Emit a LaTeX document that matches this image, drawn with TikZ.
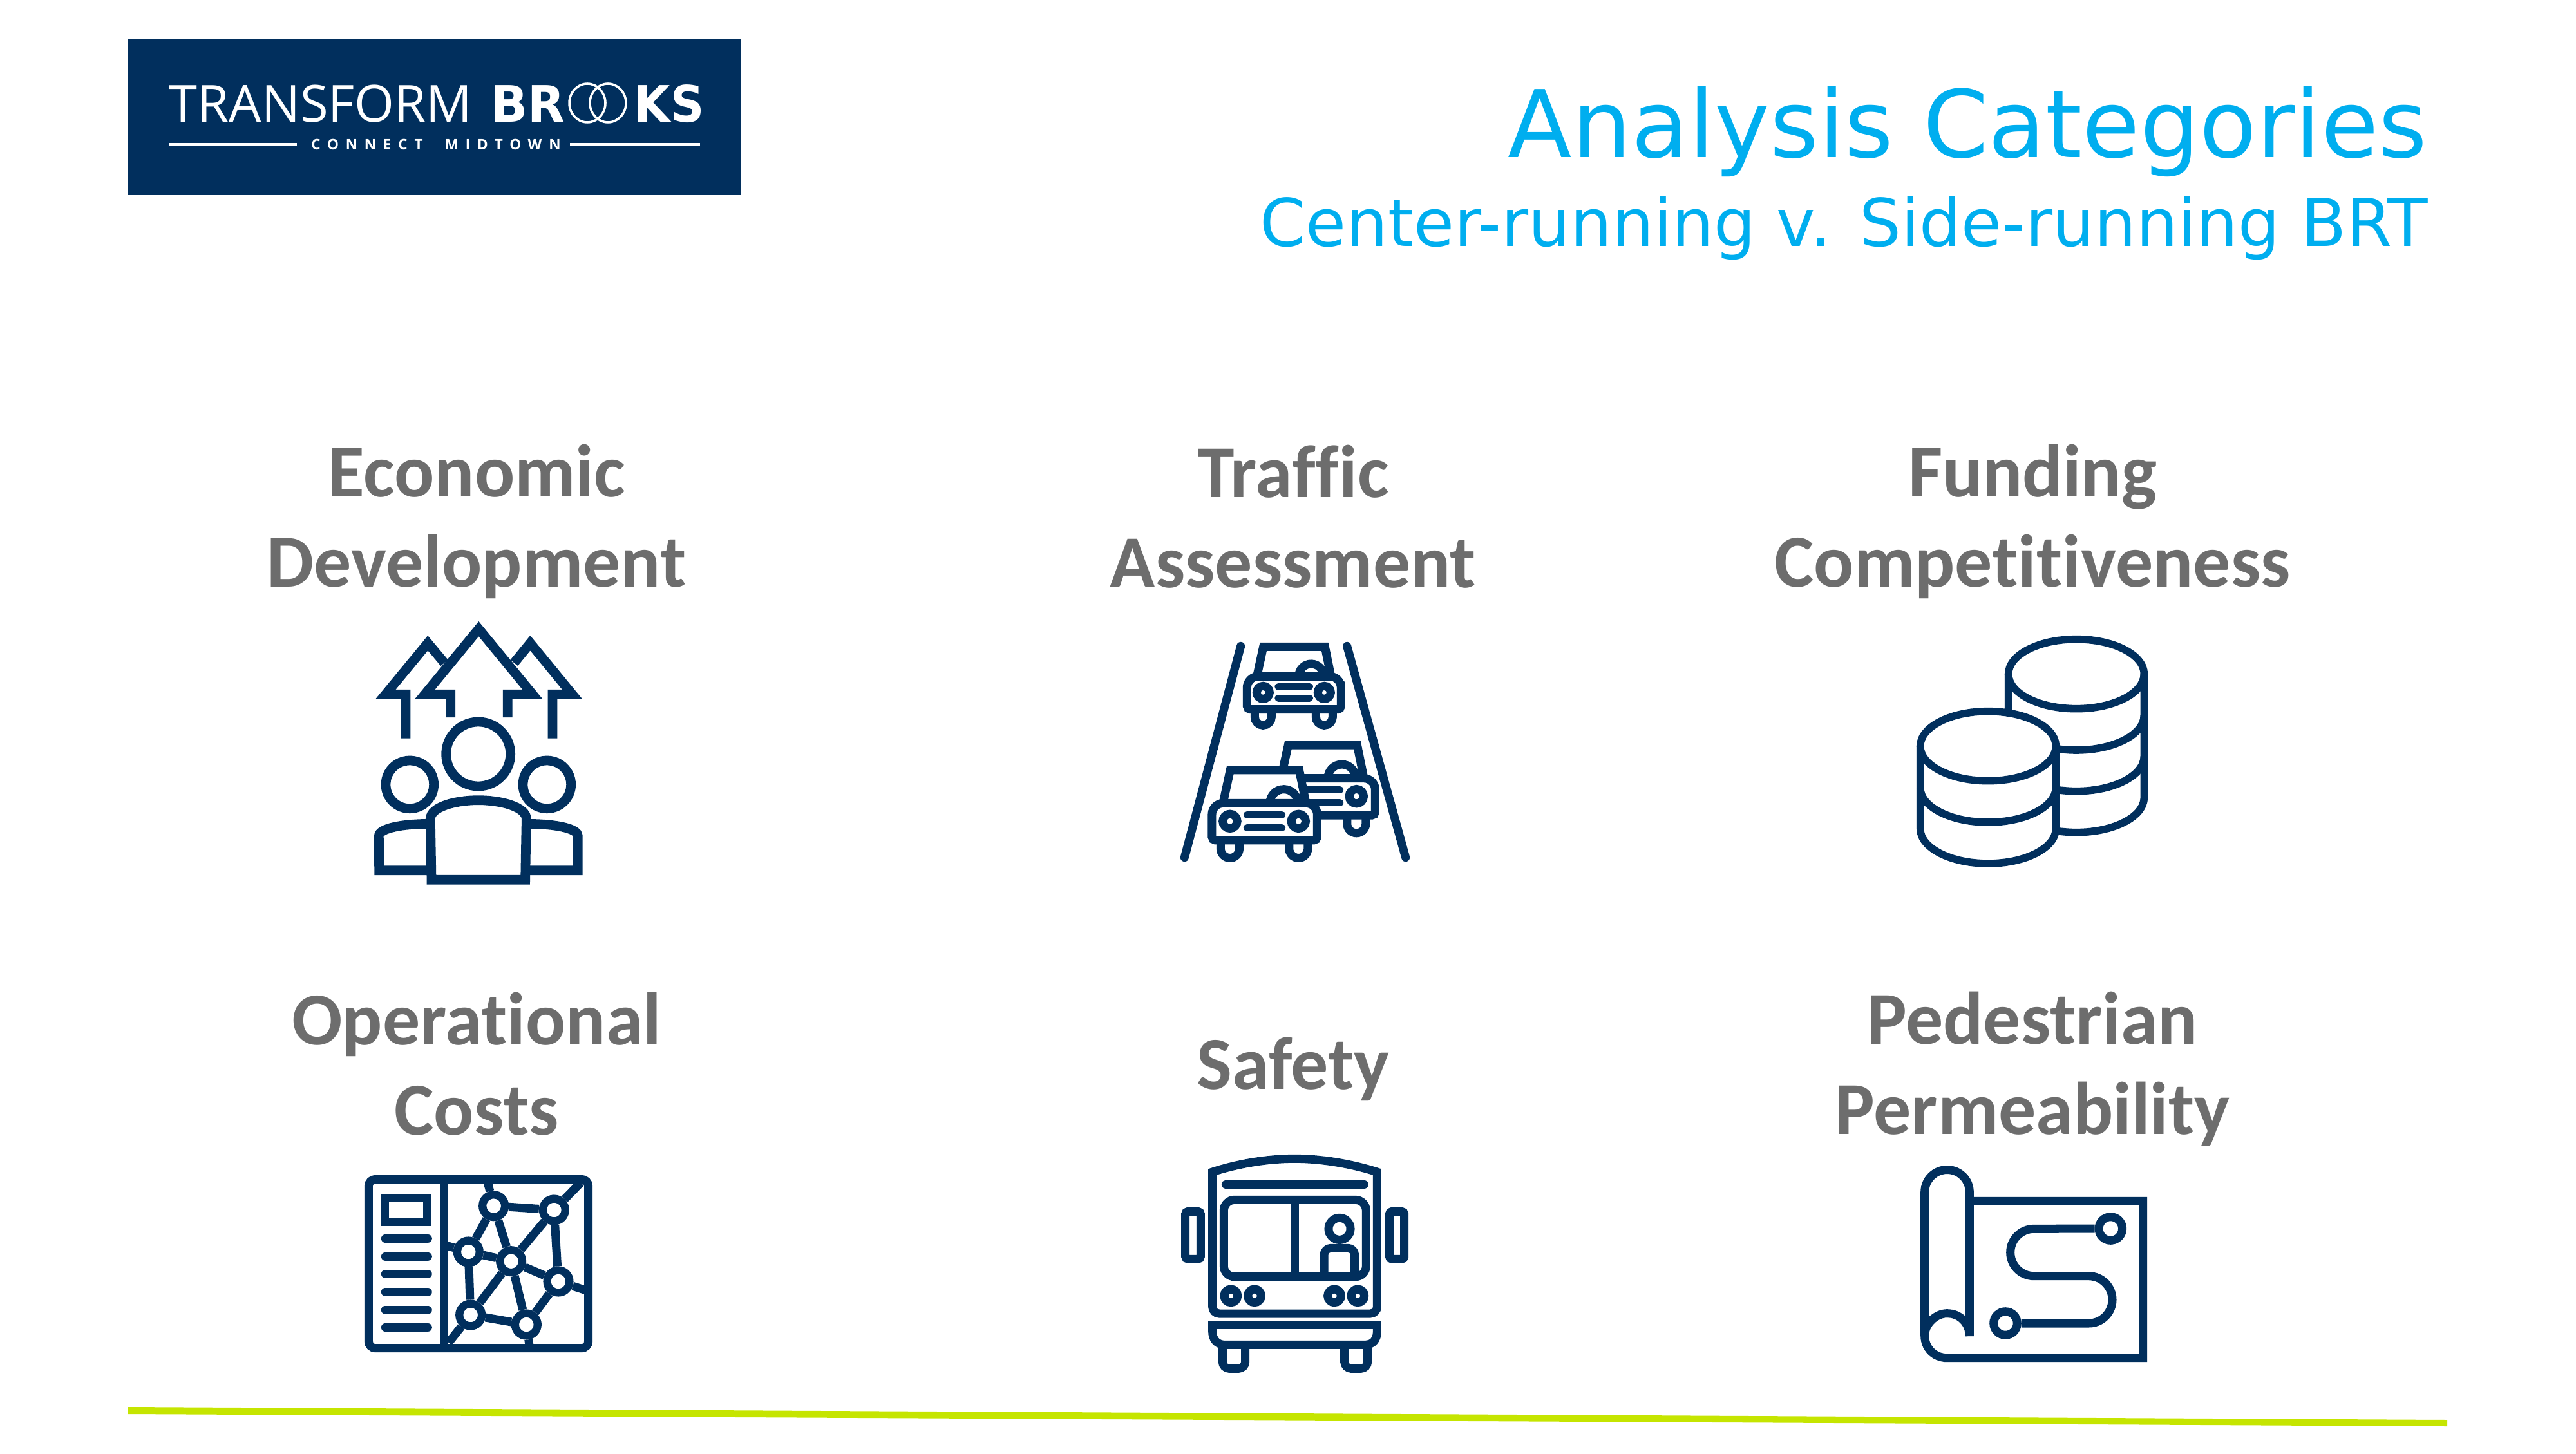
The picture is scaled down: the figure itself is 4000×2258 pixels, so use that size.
\documentclass[tikz,border=0pt]{standalone}
\usepackage{fontspec}
\setmainfont[Ligatures=CommonOff]{Carlito}
\newfontfamily\titlefont{DejaVu Sans}
\newfontfamily\logofont{Open Sans}
\newfontfamily\logoheavy{DejaVu Sans}
\newfontfamily\logospaced[LetterSpace=48]{Open Sans}
\definecolor{navy}{HTML}{012F5D}
\definecolor{greytext}{HTML}{6D6D6D}
\definecolor{skyblue}{HTML}{00AEEF}
\definecolor{limeline}{HTML}{C5E500}
\begin{document}
\begin{tikzpicture}[x=0.01cm,y=-0.01cm]
	\tikzstyle{catlabel}=[text=greytext,align=center,font=\fontsize{33}{39.8}\selectfont\bfseries]
	\tikzstyle{iconline}=[draw=navy,line width=3.7pt]
	\tikzstyle{mapdot}=[circle,draw=navy,line width=3.5pt,minimum size=9.9pt,inner sep=0pt]
	\tikzstyle{stopdot}=[circle,draw=navy,line width=3.7pt,minimum size=10.4pt,inner sep=0pt]
	\useasboundingbox (0,0) rectangle (4000,2258);
	\newcommand*{\carshape}{
		\draw[iconline,fill=white] (-173,0) -- (-143,-138) -- (144,-138) -- (172,0);
		\draw[iconline] (22,0) arc[start angle=180,end angle=360,radius=58];
		\foreach \x in {-144,141}{
			\draw[iconline,fill=white] (\x-39,150) -- (\x-39,189) arc[start angle=180,end angle=0,radius=39] -- (\x+39,150);
		}
		\draw[iconline,fill=white,rounded corners=5pt] (-219,77) -- (-219,0) -- (219,0) -- (219,77) [rounded corners=1.5pt] -- (219,154) -- (-219,154) -- cycle;
		\foreach \x in {-144,141}{
			\draw[iconline] (\x,75) circle (30);
		}
		\foreach \y in {48,102}{
			\draw[iconline,line cap=round,line width=3.2pt] (-73,\y) -- (72,\y);
		}
	}
	\newcommand*{\coins}[2]{
		\draw[iconline,line width=3.3pt,fill=white] (-316,0) -- (-316,#2) arc[start angle=180,end angle=0,x radius=316,y radius=162] -- (316,0) arc[start angle=0,end angle=-180,x radius=316,y radius=162] -- cycle;
		\draw[iconline,line width=3.3pt] (-316,0) arc[start angle=180,end angle=0,x radius=316,y radius=162];
		\foreach \y in {#1}{
			\draw[iconline,line width=3.3pt] (-316,\y) arc[start angle=180,end angle=0,x radius=316,y radius=162];
		}
	}
	\fill[navy] (199,61) rectangle (1151,303);
	\node[white,anchor=base west,inner sep=0pt,font=\logofont\fontsize{22.6}{26}\selectfont] (logo_a) at (262,190) {TRANSFORM};
	\node[white,anchor=base west,inner sep=0pt,xscale=0.96,transform shape,font=\logoheavy\fontsize{22.2}{26}\selectfont\bfseries] (logo_b) at (762,190) {BR};
	\node[white,anchor=base east,inner sep=0pt,xscale=0.93,transform shape,font=\logoheavy\fontsize{22.2}{26}\selectfont\bfseries] (logo_c) at (1094,190) {KS};
	\draw[white,line width=1pt] (912,160) ellipse [x radius=28,y radius=30] (944,160) ellipse [x radius=28,y radius=30];
	\node[white,anchor=base,inner sep=0pt,font=\logospaced\fontsize{6.4}{8}\selectfont\bfseries] (logo_d) at (677,233) {CONNECT\hspace{5pt} MIDTOWN};
	\draw[white,line width=0.9pt] (263,224) -- (461,224) (885,224) -- (1087,224);
	\node[text=skyblue,anchor=base east,inner sep=0pt,font=\titlefont\fontsize{41.3}{48}\selectfont] (title) at (3770,245) {Analysis Categories};
	\node[text=skyblue,anchor=base east,inner sep=0pt,font=\titlefont\fontsize{29.1}{34}\selectfont] (subtitle) at (3770,383) {Center-running v. Side-running BRT};
	\node[catlabel] (lab_a) at (740,810) {Economic\\Development};
	\node[catlabel] (lab_b) at (2008,802) {Traffic\\Assessment};
	\node[catlabel] (lab_c) at (3156,810) {Funding\\Competitiveness};
	\node[catlabel] (lab_d) at (740,1652) {Operational\\Costs};
	\node[catlabel] (lab_e) at (2008,1660) {Safety};
	\node[catlabel] (lab_f) at (3156,1660) {Pedestrian\\Permeability};
	\begin{scope}[shift={(540,940)},scale=1/3]
		\tikzstyle{peopleline}=[draw=navy,line width=4.2pt]
		\draw[peopleline] (479,522) -- (479,415) -- (359,415) -- (610,110) -- (861,415) -- (745,415) -- (745,522);
		\draw[peopleline] (270,620) -- (270,415) -- (176,415) -- (373,176) -- (450,268);
		\draw[peopleline] (954,620) -- (954,415) -- (1046,415) -- (850,176) -- (775,268);
		\draw[peopleline] (608,693) circle (150) (289,835) circle (112) (928,835) circle (112);
		\draw[peopleline] (385,1235) -- (146,1235) -- (145,1075) .. controls (145,1040) and (250,1018) .. (385,1018);
		\draw[peopleline] (830,1235) -- (1072,1235) -- (1072,1075) .. controls (1072,1040) and (970,1018) .. (830,1018);
		\draw[peopleline] (390,1279) -- (385,995) .. controls (385,940) and (500,908) .. (608,908) .. controls (716,908) and (832,940) .. (832,995) -- (827,1279) -- cycle;
	\end{scope}
	\begin{scope}[shift={(1800,970)},scale=1/3]
		\draw[iconline,line cap=round] (118,1085) -- (380,100) (875,100) -- (1148,1085);
		\begin{scope}[shift={(628,241)}]
			\carshape
		\end{scope}
		\begin{scope}[shift={(761,716)},scale=1.12]
			\carshape
		\end{scope}
		\begin{scope}[shift={(491,832)},scale=1.12]
			\carshape
		\end{scope}
	\end{scope}
	\begin{scope}[shift={(2940,970)},scale=1/3]
		\begin{scope}[shift={(852,230)}]
			\coins{193,384}{576}
		\end{scope}
		\begin{scope}[shift={(441,566)}]
			\coins{193}{385}
		\end{scope}
	\end{scope}
	\begin{scope}[shift={(540,1800)},scale=1/3]
		\draw[iconline,rounded corners=3pt] (97,94) rectangle (1121,881);
		\draw[iconline] (449,94) -- (449,881);
		\draw[iconline] (172,181) rectangle (371,292);
		\foreach \y in {370,453,535,619,702,784}{
			\draw[iconline,line cap=round] (175,\y) -- (373,\y);
		}
		\foreach \n/\a/\b in {1/680/218,2/961/237,3/562/432,4/761/476,5/981/570,6/572/726,7/832/771}{
			\node[mapdot] (m_\n) at (\a,\b) {};
		}
		\coordinate (m_a) at (648,94);
		\coordinate (m_b) at (1085,110);
		\coordinate (m_c) at (449,400);
		\coordinate (m_e) at (1121,615);
		\coordinate (m_f) at (470,855);
		\coordinate (m_g) at (848,881);
		\foreach \a/\b in {1/2,1/3,1/4,2/4,2/5,3/4,3/6,4/5,4/6,4/7,5/7,6/7,1/a,2/b,3/c,5/e,6/f,7/g}{
			\draw[iconline] (m_\a) -- (m_\b);
		}
	\end{scope}
	\begin{scope}[shift={(1810,1770)},scale=1/3]
		\draw[iconline] (218,150) .. controls (340,110) and (480,88) .. (600,88) .. controls (720,88) and (860,110) .. (985,150) [rounded corners=3pt] -- (985,810) -- (218,810) [sharp corners] -- cycle;
		\draw[iconline,line cap=round] (280,208) -- (925,208);
		\draw[iconline,rounded corners=4.7pt] (271,280) rectangle (934,638);
		\draw[iconline] (601,280) -- (601,638);
		\node[circle,draw=navy,line width=3.7pt,minimum size=9.7pt,inner sep=0pt] (driver) at (810,415) {};
		\draw[iconline,rounded corners=3pt] (738,638) -- (738,505) -- (881,505) -- (881,638);
		\foreach \x in {304,414,786,895}{
			\draw[iconline] (\x,727) circle (31);
		}
		\draw[iconline,rounded corners=1.2pt] (92,334) rectangle (163,556);
		\draw[iconline,rounded corners=1.2pt] (1042,334) rectangle (1112,556);
		\draw[iconline] (198,862) -- (1005,862);
		\draw[iconline] (218,862) -- (218,895) .. controls (218,930) and (240,955) .. (275,955) -- (930,955) .. controls (965,955) and (985,930) .. (985,895) -- (985,862);
		\draw[iconline,rounded corners=3pt] (265,955) -- (265,1066) -- (371,1066) -- (371,955);
		\draw[iconline,rounded corners=3pt] (833,955) -- (833,1066) -- (941,1066) -- (941,955);
	\end{scope}
	\begin{scope}[shift={(2950,1790)},scale=1/3]
		\draw[iconline,line cap=round] (325,226) -- (1133,226) -- (1133,956) -- (220,956) .. controls (160,956) and (116,910) .. (116,853) -- (116,184) arc[start angle=180,end angle=360,radius=104.5] -- (325,855) .. controls (325,795) and (280,749) .. (220,749) .. controls (170,749) and (116,795) .. (116,853);
		\node[stopdot] (s_1) at (982,354) {};
		\node[stopdot] (s_2) at (492,795) {};
		\draw[iconline] (s_1) -- (625,355) arc[start angle=270,end angle=90,radius=110] -- (880,575) arc[start angle=-90,end angle=90,radius=110] -- (s_2);
	\end{scope}
	\fill[limeline] (199,2185) -- (3800,2205) -- (3800,2215) -- (199,2196) -- cycle;
\end{tikzpicture}
\end{document}
